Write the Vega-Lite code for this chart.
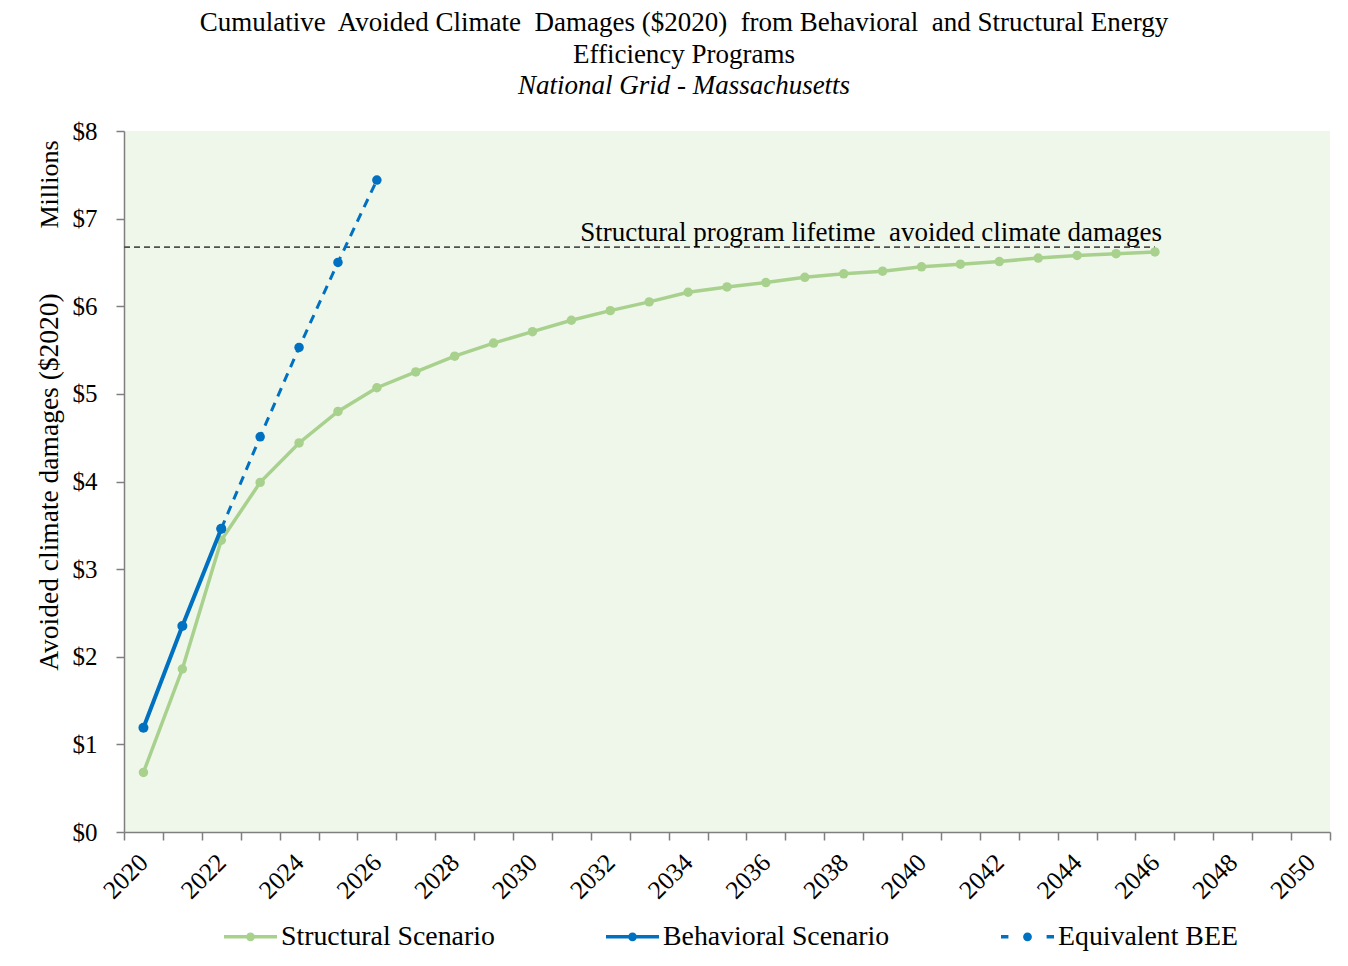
{
  "$schema": "https://vega.github.io/schema/vega-lite/v6.json",
  "width": 1206,
  "height": 701,
  "autosize": {"type": "none"},
  "padding": {"left": 124, "top": 131, "right": 18, "bottom": 134},
  "background": "#FFFFFF",
  "title": {
    "text": ["Cumulative\u00a0 Avoided Climate\u00a0 Damages ($2020)\u00a0 from Behavioral\u00a0 and Structural Energy", "Efficiency Programs"],
    "subtitle": "National Grid - Massachusetts",
    "anchor": "middle",
    "dx": -43,
    "offset": 19,
    "font": "Liberation Serif",
    "fontSize": 27,
    "fontWeight": "normal",
    "color": "#000000",
    "lineHeight": 32,
    "subtitleFont": "Liberation Serif",
    "subtitleFontSize": 27,
    "subtitleFontStyle": "italic",
    "subtitleColor": "#000000",
    "subtitlePadding": 4,
    "subtitleLineHeight": 32
  },
  "datasets": {
    "series": [
      {"year": 2020, "value": 0.68, "series": "Structural Scenario"},
      {"year": 2021, "value": 1.86, "series": "Structural Scenario"},
      {"year": 2022, "value": 3.33, "series": "Structural Scenario"},
      {"year": 2023, "value": 3.99, "series": "Structural Scenario"},
      {"year": 2024, "value": 4.44, "series": "Structural Scenario"},
      {"year": 2025, "value": 4.8, "series": "Structural Scenario"},
      {"year": 2026, "value": 5.07, "series": "Structural Scenario"},
      {"year": 2027, "value": 5.25, "series": "Structural Scenario"},
      {"year": 2028, "value": 5.43, "series": "Structural Scenario"},
      {"year": 2029, "value": 5.58, "series": "Structural Scenario"},
      {"year": 2030, "value": 5.71, "series": "Structural Scenario"},
      {"year": 2031, "value": 5.84, "series": "Structural Scenario"},
      {"year": 2032, "value": 5.95, "series": "Structural Scenario"},
      {"year": 2033, "value": 6.05, "series": "Structural Scenario"},
      {"year": 2034, "value": 6.16, "series": "Structural Scenario"},
      {"year": 2035, "value": 6.22, "series": "Structural Scenario"},
      {"year": 2036, "value": 6.27, "series": "Structural Scenario"},
      {"year": 2037, "value": 6.33, "series": "Structural Scenario"},
      {"year": 2038, "value": 6.37, "series": "Structural Scenario"},
      {"year": 2039, "value": 6.4, "series": "Structural Scenario"},
      {"year": 2040, "value": 6.45, "series": "Structural Scenario"},
      {"year": 2041, "value": 6.48, "series": "Structural Scenario"},
      {"year": 2042, "value": 6.51, "series": "Structural Scenario"},
      {"year": 2043, "value": 6.55, "series": "Structural Scenario"},
      {"year": 2044, "value": 6.58, "series": "Structural Scenario"},
      {"year": 2045, "value": 6.6, "series": "Structural Scenario"},
      {"year": 2046, "value": 6.62, "series": "Structural Scenario"},
      {"year": 2022, "value": 3.46, "series": "Equivalent BEE"},
      {"year": 2023, "value": 4.51, "series": "Equivalent BEE"},
      {"year": 2024, "value": 5.53, "series": "Equivalent BEE"},
      {"year": 2025, "value": 6.5, "series": "Equivalent BEE"},
      {"year": 2026, "value": 7.44, "series": "Equivalent BEE"},
      {"year": 2020, "value": 1.19, "series": "Behavioral Scenario"},
      {"year": 2021, "value": 2.35, "series": "Behavioral Scenario"},
      {"year": 2022, "value": 3.46, "series": "Behavioral Scenario"}
    ],
    "lifetime": [
      {"start": 2020, "end": 2046, "value": 6.675, "label": "Structural program lifetime\u00a0 avoided climate damages"}
    ],
    "unit": [
      {"value": 7.39, "label": "Millions"}
    ]
  },
  "encoding": {
    "x": {
      "field": "year",
      "type": "ordinal",
      "bandPosition": 0.5,
      "scale": {
        "type": "band",
        "domain": [2020, 2021, 2022, 2023, 2024, 2025, 2026, 2027, 2028, 2029, 2030, 2031, 2032, 2033, 2034, 2035, 2036, 2037, 2038, 2039, 2040, 2041, 2042, 2043, 2044, 2045, 2046, 2047, 2048, 2049, 2050],
        "paddingInner": 0,
        "paddingOuter": 0
      },
      "axis": {
        "title": null,
        "tickBand": "extent",
        "labelAngle": -45,
        "labelAlign": "right",
        "labelBaseline": "middle",
        "labelPadding": 18,
        "labelOverlap": false,
        "labelFontSize": 25.5,
        "labelExpr": "datum.value % 2 === 0 ? datum.label : ''"
      }
    },
    "y": {
      "field": "value",
      "type": "quantitative",
      "scale": {"domain": [0, 8], "nice": false, "zero": true},
      "axis": {
        "title": "Avoided climate damages ($2020)",
        "titleFont": "Liberation Serif",
        "titleFontSize": 27.5,
        "titleFontWeight": "normal",
        "titleColor": "#000000",
        "titlePadding": 9,
        "values": [0, 1, 2, 3, 4, 5, 6, 7, 8],
        "labelExpr": "'$' + datum.value",
        "labelFontSize": 25,
        "labelPadding": 19
      }
    }
  },
  "layer": [
    {
      "data": {"name": "lifetime"},
      "mark": {"type": "rule", "color": "#505050", "strokeWidth": 1.7, "strokeDash": [6, 4]},
      "encoding": {
        "x": {"field": "start", "type": "ordinal", "bandPosition": 0},
        "x2": {"field": "end", "bandPosition": 0.5},
        "y": {"field": "value", "type": "quantitative"}
      }
    },
    {
      "data": {"name": "lifetime"},
      "mark": {"type": "text", "align": "right", "baseline": "alphabetic", "dx": 7, "dy": -6, "font": "Liberation Serif", "fontSize": 27, "color": "#000000"},
      "encoding": {
        "x": {"field": "end", "type": "ordinal", "bandPosition": 0.5},
        "y": {"field": "value", "type": "quantitative"},
        "text": {"field": "label"}
      }
    },
    {
      "data": {"name": "unit"},
      "mark": {"type": "text", "align": "center", "baseline": "middle", "angle": 270, "dx": 0, "dy": -74, "font": "Liberation Serif", "fontSize": 26, "color": "#000000"},
      "encoding": {
        "x": {"value": 0},
        "y": {"field": "value", "type": "quantitative"},
        "text": {"field": "label"}
      }
    },
    {
      "data": {"name": "series"},
      "transform": [{"filter": "datum.series === 'Structural Scenario'"}],
      "mark": {"type": "line", "strokeWidth": 3.5, "point": {"filled": true, "size": 90}},
      "encoding": {
        "color": {"field": "series", "type": "nominal"}
      }
    },
    {
      "data": {"name": "series"},
      "transform": [{"filter": "datum.series === 'Equivalent BEE'"}],
      "mark": {"type": "line", "strokeWidth": 3, "strokeDash": [9, 7], "point": {"filled": true, "size": 90}},
      "encoding": {
        "color": {"field": "series", "type": "nominal"}
      }
    },
    {
      "data": {"name": "series"},
      "transform": [{"filter": "datum.series === 'Behavioral Scenario'"}],
      "mark": {"type": "line", "strokeWidth": 4, "point": {"filled": true, "size": 100}},
      "encoding": {
        "color": {
          "field": "series",
          "type": "nominal",
          "scale": {
            "domain": ["Structural Scenario", "Behavioral Scenario", "Equivalent BEE"],
            "range": ["#A9D18E", "#0070C0", "#0070C0"]
          },
          "legend": {
            "title": null,
            "orient": "none",
            "direction": "horizontal",
            "legendX": 98,
            "legendY": 777,
            "columnPadding": 104,
            "symbolSize": 2809,
            "symbolStrokeWidth": 3.5,
            "symbolType": "M-1,0H1M-0.1,0a0.1,0.1 0 1,0 0.2,0a0.1,0.1 0 1,0 -0.2,0",
            "labelFont": "Liberation Serif",
            "labelFontSize": 27.8,
            "labelColor": "#000000",
            "labelLimit": 500,
            "labelOffset": 2,
            "encode": {
              "symbols": {
                "update": {
                  "shape": {"signal": "datum.value === 'Equivalent BEE' ? 'M-1,0H-0.72M0.72,0H1M-0.1,0a0.1,0.1 0 1,0 0.2,0a0.1,0.1 0 1,0 -0.2,0' : 'M-1,0H1M-0.1,0a0.1,0.1 0 1,0 0.2,0a0.1,0.1 0 1,0 -0.2,0'"},
                  "strokeDash": {"value": []},
                  "fill": {"value": "transparent"}
                }
              }
            }
          }
        }
      }
    }
  ],
  "config": {
    "view": {"stroke": null, "fill": "#EFF7EA"},
    "axis": {
      "domainColor": "#7F7F7F",
      "domainWidth": 1.5,
      "tickColor": "#7F7F7F",
      "tickWidth": 1.5,
      "tickSize": 8,
      "grid": false,
      "labelFont": "Liberation Serif",
      "labelFontSize": 25,
      "labelColor": "#000000"
    }
  }
}
